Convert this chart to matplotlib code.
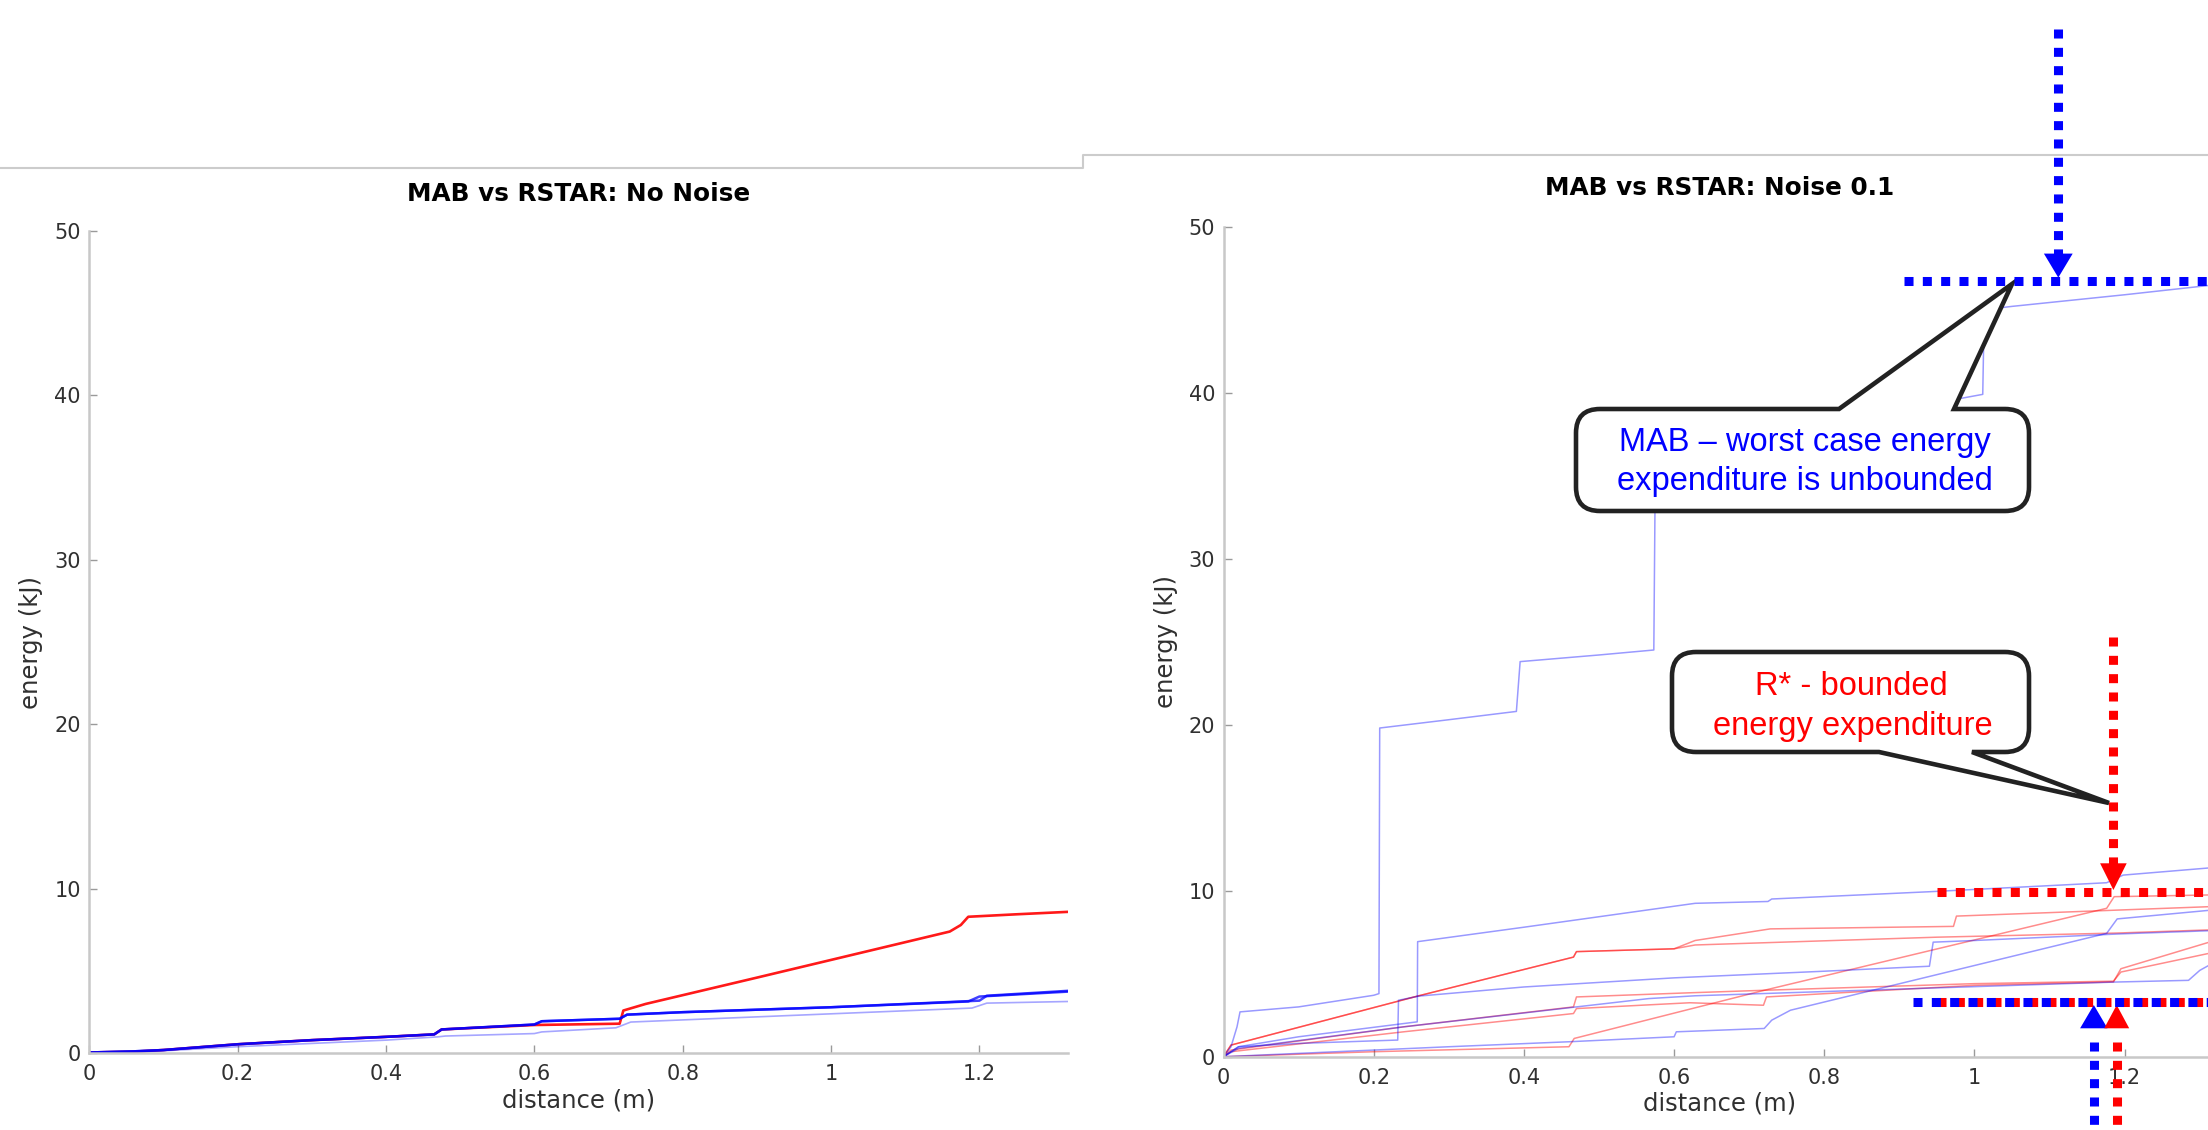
import matplotlib
matplotlib.use('Agg')
import matplotlib.pyplot as plt
from matplotlib.path import Path
from matplotlib.patches import PathPatch, Polygon
from matplotlib.ticker import FuncFormatter

plt.rcParams['font.family'] = ['DejaVu Sans']

W, H = 2208, 1130

x_ticks = [0, 0.2, 0.4, 0.6, 0.8, 1.0, 1.2]
y_ticks = [0, 10, 20, 30, 40, 50]

# --- No noise panel ---
nn_mab_a_x = [0, 0.06, 0.1, 0.2, 0.3, 0.4, 0.465, 0.475, 0.6, 0.61, 0.715, 0.725, 0.8, 1.0, 1.185, 1.2, 1.32]
nn_mab_a_y = [0.05, 0.12, 0.2, 0.55, 0.8, 1.0, 1.15, 1.45, 1.75, 1.95, 2.1, 2.35, 2.5, 2.8, 3.15, 3.45, 3.75]
nn_mab_b_x = [0, 0.06, 0.1, 0.2, 0.3, 0.4, 0.465, 0.475, 0.6, 0.61, 0.715, 0.725, 0.8, 1.0, 1.2, 1.21, 1.32]
nn_mab_b_y = [0.05, 0.12, 0.2, 0.55, 0.8, 1.0, 1.15, 1.45, 1.75, 1.95, 2.1, 2.35, 2.5, 2.8, 3.2, 3.5, 3.8]
nn_mab_c_x = [0, 0.06, 0.2, 0.4, 0.47, 0.48, 0.6, 0.61, 0.71, 0.73, 1.0, 1.19, 1.21, 1.32]
nn_mab_c_y = [0, 0.05, 0.4, 0.8, 1.0, 1.05, 1.2, 1.3, 1.55, 1.9, 2.4, 2.75, 3.05, 3.15]
nn_rstar_x = [0, 0.06, 0.1, 0.2, 0.3, 0.4, 0.465, 0.475, 0.6, 0.715, 0.72, 0.75, 0.9, 1.16, 1.175, 1.185, 1.25, 1.32]
nn_rstar_y = [0.05, 0.1, 0.2, 0.55, 0.8, 1.0, 1.15, 1.45, 1.72, 1.8, 2.6, 3.0, 4.6, 7.4, 7.8, 8.3, 8.45, 8.6]

# --- Noise 0.1 panel ---
mab1_x = [0, 0.01, 0.018, 0.022, 0.1, 0.2, 0.207, 0.208, 0.3, 0.39, 0.395, 0.5, 0.573, 0.575, 0.8, 0.97, 0.975, 1.011, 1.013, 1.05, 1.2, 1.32]
mab1_y = [0, 0.6, 1.8, 2.7, 3.0, 3.7, 3.8, 19.8, 20.3, 20.8, 23.8, 24.2, 24.5, 35.5, 37.0, 38.0, 39.6, 39.9, 45.0, 45.2, 45.9, 46.5]
mab2_x = [0, 0.02, 0.1, 0.23, 0.232, 0.233, 0.26, 0.4, 0.6, 0.8, 0.94, 0.945, 1.0, 1.195, 1.32]
mab2_y = [0, 0.6, 0.8, 1.0, 1.0, 3.4, 3.65, 4.2, 4.75, 5.15, 5.45, 6.9, 7.0, 7.4, 7.6]
mab3_x = [0, 0.02, 0.1, 0.258, 0.2585, 0.4, 0.628, 0.725, 0.73, 0.941, 1.176, 1.198, 1.32]
mab3_y = [0, 0.6, 1.2, 2.1, 6.93, 7.8, 9.24, 9.35, 9.5, 9.94, 10.48, 10.94, 11.4]
mab4_x = [0, 0.1, 0.3, 0.46, 0.6, 0.603, 0.72, 0.73, 0.755, 1.176, 1.19, 1.32]
mab4_y = [0, 0.2, 0.6, 0.9, 1.2, 1.5, 1.7, 2.2, 2.8, 7.43, 8.3, 8.85]
mab5_x = [0, 0.02, 0.24, 0.566, 0.628, 1.19, 1.285, 1.30, 1.32]
mab5_y = [0, 0.5, 1.8, 3.5, 3.67, 4.5, 4.6, 5.2, 5.7]

rstar1_x = [0, 0.01, 0.26, 0.466, 0.47, 0.6, 0.628, 0.728, 0.972, 0.976, 1.32]
rstar1_y = [0, 0.7, 3.67, 6.0, 6.33, 6.5, 7.0, 7.7, 7.85, 8.47, 9.05]
rstar2_x = [0, 0.01, 0.26, 0.466, 0.47, 0.6, 0.628, 0.95, 1.19, 1.32]
rstar2_y = [0, 0.7, 3.67, 6.0, 6.33, 6.5, 6.73, 7.2, 7.45, 7.65]
rstar3_x = [0, 0.2, 0.46, 0.467, 0.72, 1.176, 1.186, 1.32]
rstar3_y = [0, 0.3, 0.6, 1.1, 4.0, 8.94, 9.64, 9.75]
rstar4_x = [0, 0.01, 0.24, 0.466, 0.47, 0.621, 0.719, 1.0, 1.185, 1.195, 1.32]
rstar4_y = [0, 0.4, 1.8, 3.0, 3.6, 3.85, 4.0, 4.4, 4.55, 5.1, 6.3]
rstar5_x = [0, 0.01, 0.24, 0.466, 0.47, 0.621, 0.719, 0.723, 1.0, 1.185, 1.195, 1.32]
rstar5_y = [0, 0.3, 1.5, 2.6, 2.9, 3.25, 3.1, 3.6, 4.3, 4.5, 5.3, 7.0]


def style_axes(ax, title, pad):
    ax.set_xlim(0, 1.32)
    ax.set_ylim(0, 50)
    ax.set_xticks(x_ticks)
    ax.set_yticks(y_ticks)
    ax.xaxis.set_major_formatter(FuncFormatter(lambda v, p: '%g' % v))
    for s in ['top', 'right']:
        ax.spines[s].set_visible(False)
    for s in ['left', 'bottom']:
        ax.spines[s].set_color('#c8c8c8')
        ax.spines[s].set_linewidth(1.8)
    ax.tick_params(direction='in', length=5.8, width=1.0, color='#9a9a9a',
                   labelsize=15, labelcolor='#303030')
    ax.tick_params(axis='x', pad=8)
    ax.tick_params(axis='y', pad=6)
    ax.set_xlabel('distance (m)', fontsize=17.5, color='#303030', labelpad=3)
    ax.set_ylabel('energy (kJ)', fontsize=17.5, color='#303030', labelpad=8)
    ax.set_title(title, fontsize=17.8, fontweight='bold', pad=pad)


fig = plt.figure(figsize=(W / 100, H / 100), dpi=100)

ax1 = fig.add_axes([89.3 / W, 1 - 1053.3 / H, 979.1 / W, 822.5 / H])
ax1.plot(nn_rstar_x, nn_rstar_y, color='red', lw=1.9, alpha=0.9)
ax1.plot(nn_mab_c_x, nn_mab_c_y, color='blue', lw=1.2, alpha=0.35)
ax1.plot(nn_mab_a_x, nn_mab_a_y, color='blue', lw=1.8, alpha=0.75)
ax1.plot(nn_mab_b_x, nn_mab_b_y, color='blue', lw=1.8, alpha=0.75)
style_axes(ax1, 'MAB vs RSTAR: No Noise', 21.7)

ax2 = fig.add_axes([1223.5 / W, 1 - 1056.7 / H, 991.3 / W, 830 / H])
for xs, ys in [(rstar1_x, rstar1_y), (rstar2_x, rstar2_y), (rstar3_x, rstar3_y),
               (rstar4_x, rstar4_y), (rstar5_x, rstar5_y)]:
    ax2.plot(xs, ys, color='red', lw=1.1, alpha=0.45)
for xs, ys in [(mab1_x, mab1_y), (mab2_x, mab2_y), (mab3_x, mab3_y),
               (mab4_x, mab4_y), (mab5_x, mab5_y)]:
    ax2.plot(xs, ys, color='blue', lw=1.1, alpha=0.4)
style_axes(ax2, 'MAB vs RSTAR: Noise 0.1', 22.8)

# overlay in pixel coordinates for the slide annotations
ov = fig.add_axes([0, 0, 1, 1])
ov.set_xlim(0, W)
ov.set_ylim(H, 0)
ov.axis('off')

# screenshot borders
ov.plot([0, 1083, 1083, W], [168.3, 168.3, 155, 155], color='#cccccc', lw=1.5)


def callout(x0, y0, x1, y1, r, ba, bb, tip, side):
    M, L, C, Z = Path.MOVETO, Path.LINETO, Path.CURVE3, Path.CLOSEPOLY
    if side == 'top':
        verts = [(x0 + r, y0), (ba, y0), tip, (bb, y0), (x1 - r, y0), (x1, y0), (x1, y0 + r),
                 (x1, y1 - r), (x1, y1), (x1 - r, y1), (x0 + r, y1), (x0, y1), (x0, y1 - r),
                 (x0, y0 + r), (x0, y0), (x0 + r, y0), (x0 + r, y0)]
        codes = [M, L, L, L, L, C, C, L, C, C, L, C, C, L, C, C, Z]
    else:
        verts = [(x0 + r, y0), (x1 - r, y0), (x1, y0), (x1, y0 + r), (x1, y1 - r), (x1, y1),
                 (x1 - r, y1), (bb, y1), tip, (ba, y1), (x0 + r, y1), (x0, y1), (x0, y1 - r),
                 (x0, y0 + r), (x0, y0), (x0 + r, y0), (x0 + r, y0)]
        codes = [M, L, C, C, L, C, C, L, L, L, L, C, C, L, C, C, Z]
    ov.add_patch(PathPatch(Path(verts, codes), facecolor='white', edgecolor='#222222',
                           lw=3.3, joinstyle='miter'))


def dotted(xs, ys, color, offset=0.0):
    ov.plot(xs, ys, color=color, lw=6.5, linestyle=(offset, (1.0, 1.03)),
            dash_capstyle='butt')


def head(x, y_base, y_tip, half, color):
    ov.add_patch(Polygon([(x - half, y_base), (x + half, y_base), (x, y_tip)],
                         closed=True, facecolor=color, edgecolor='none'))


callout(1576, 409, 2029, 511, 24, 1839, 1954, (2012, 284), 'top')
ov.text(1805, 450.7, 'MAB \u2013 worst case energy', ha='center', va='baseline',
        color='blue', fontsize=23.5, family='Liberation Sans')
ov.text(1805, 490, 'expenditure is unbounded', ha='center', va='baseline',
        color='blue', fontsize=23.5, family='Liberation Sans')

callout(1672, 652, 2029, 752, 24, 1879, 1972, (2109, 803), 'bottom')
ov.text(1851, 695, 'R* - bounded', ha='center', va='baseline',
        color='red', fontsize=23.5, family='Liberation Sans')
ov.text(1853, 735, 'energy expenditure', ha='center', va='baseline',
        color='red', fontsize=23.5, family='Liberation Sans')

# blue worst-case marker
dotted([2058.3, 2058.3], [29.3, 256], 'blue')
head(2058.3, 253.6, 277.6, 14.4, 'blue')
dotted([1904, W + 10], [281, 281], 'blue')

# red bound marker
dotted([2113.4, 2113.4], [636.7, 865], 'red')
head(2113.4, 863.3, 890, 13.3, 'red')
dotted([1936.7, W + 10], [891.7, 891.7], 'red')

# shared low line
dotted([1936.7, W + 10], [1001.7, 1001.7], 'red')
dotted([1913, W + 10], [1001.7, 1001.7], 'blue')
dotted([2093.8, 2093.8], [1041.7, H + 10], 'blue')
dotted([2116.7, 2116.7], [1041.7, H + 10], 'red')
head(2093.8, 1028.3, 1005, 13.7, 'blue')
head(2116.7, 1028.3, 1005, 12.5, 'red')

fig.savefig('out.png', dpi=100, facecolor='white')
